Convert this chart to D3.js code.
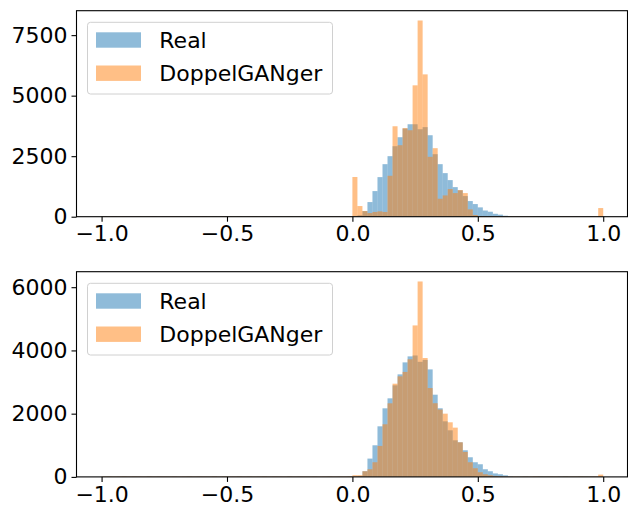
<!DOCTYPE html>
<html>
<head>
<meta charset="utf-8">
<script src="https://cdn.jsdelivr.net/npm/d3@7"></script>
<style>
  html, body { margin: 0; padding: 0; background: #fff; }
  svg { display: block; font-family: "DejaVu Sans", sans-serif; }
</style>
</head>
<body>
<svg id="chart" width="628" height="508"></svg>
<script>
// ---- data: 100 histogram bins of width 0.02 over [-1, 1] ----
const binStart = -1.0;
const binWidth = 0.02;
const seriesNames = ["Real", "DoppelGANger"];
const xTicks = [-1.0, -0.5, 0.0, 0.5, 1.0];
const yTicksTop = [0, 2500, 5000, 7500];
const yTicksBottom = [0, 2000, 4000, 6000];

// top panel
const realTop = [
  12, 10, 14, 9, 11, 13, 10, 12, 9, 11, 14, 10, 12, 11, 9, 13, 10, 12, 11, 10,
  13, 9, 12, 10, 11, 14, 10, 12, 9, 11, 13, 10, 12, 11, 9, 13, 10, 12, 11, 10,
  12, 11, 10, 13, 9, 12, 11, 10, 14, 12,
  30, 60, 230, 604, 1058, 1635, 2170, 2500, 2912, 3283,
  3640, 3819, 3819, 3613, 3700, 3365, 2582, 2170, 1800, 1511,
  1222, 1090, 852, 646, 522, 385, 255, 205, 120, 85,
  40, 10, 8, 6, 8, 7, 14, 16, 15, 14,
  16, 15, 14, 16, 15, 14, 16, 15, 14, 16
];
const doppelTop = [
  16, 14, 18, 15, 17, 14, 16, 18, 15, 16, 17, 14, 16, 15, 18, 16, 14, 17, 15, 16,
  18, 15, 16, 14, 17, 16, 15, 18, 14, 16, 17, 15, 16, 14, 18, 16, 15, 17, 14, 16,
  15, 17, 16, 14, 18, 15, 16, 17, 15, 16,
  1640, 440, 234, 150, 195, 220, 195, 1690, 3736, 2953,
  3660, 3571, 5426, 8104, 5879, 2473, 2830, 742, 879, 1140,
  975, 1100, 975, 302, 70, 27, 15, 12, 10, 9,
  12, 15, 14, 16, 15, 17, 14, 16, 15, 14,
  16, 15, 17, 14, 16, 15, 14, 16, 15, 357
];

// bottom panel
const realBottom = [
  10, 12, 9, 11, 13, 10, 12, 11, 9, 13, 10, 12, 11, 10, 12, 9, 11, 13, 10, 12,
  11, 10, 13, 9, 12, 10, 11, 13, 10, 12, 9, 11, 13, 10, 12, 11, 9, 13, 10, 12,
  11, 10, 12, 9, 11, 13, 10, 12, 11, 14,
  20, 30, 180, 579, 1000, 1600, 2169, 2485, 2896, 3243,
  3622, 3812, 3840, 3640, 3700, 3400, 2600, 2170, 1758, 1474,
  1158, 1095, 842, 621, 463, 400, 242, 179, 110, 84,
  50, 18, 12, 14, 16, 13, 15, 20, 18, 16,
  14, 18, 20, 16, 15, 18, 17, 16, 15, 14
];
const doppelBottom = [
  14, 16, 13, 15, 17, 14, 16, 15, 13, 17, 14, 16, 15, 14, 16, 13, 15, 17, 14, 16,
  15, 14, 17, 13, 16, 14, 15, 17, 14, 16, 13, 15, 17, 14, 16, 15, 13, 17, 14, 16,
  15, 14, 16, 13, 15, 17, 14, 16, 15, 18,
  53, 53, 179, 242, 463, 979, 1664, 2327, 2948, 3180,
  3320, 3720, 4791, 6181, 3760, 2810, 2330, 2130, 2000, 1727,
  1558, 1095, 790, 463, 274, 147, 84, 53, 30, 20,
  14, 12, 15, 13, 16, 14, 18, 16, 15, 17,
  16, 14, 17, 15, 16, 18, 15, 14, 16, 73
];

// ---- drawing ----
const colors = ["#1f77b4", "#ff7f0e"];
const fontSize = 22;
const svg = d3.select("#chart");

const x = d3.scaleLinear().domain([-1.1, 1.1]).range([76.5, 628.3]);

function panel(top, bottom, real, doppel, yTicks) {
  const ymax = 1.05 * d3.max(real.concat(doppel));
  const y = d3.scaleLinear().domain([0, ymax]).range([bottom, top]);
  const g = svg.append("g");

  [real, doppel].forEach((arr, si) => {
    g.append("g").selectAll("rect").data(arr).join("rect")
      .attr("x", (d, i) => x(binStart + i * binWidth))
      .attr("width", (d, i) => x(binStart + (i + 1) * binWidth) - x(binStart + i * binWidth))
      .attr("y", d => y(d))
      .attr("height", d => y(0) - y(d))
      .attr("fill", colors[si])
      .attr("fill-opacity", 0.5);
  });

  // spines
  const right = 627.5;
  g.append("rect")
    .attr("x", x.range()[0]).attr("y", top)
    .attr("width", right - x.range()[0]).attr("height", bottom - top)
    .attr("fill", "none").attr("stroke", "#000").attr("stroke-width", 1.1);

  // x axis
  const xa = d3.axisBottom(x).tickValues(xTicks).tickSize(5).tickPadding(4)
    .tickFormat(d => d3.format(".1f")(d).replace("-", "\u2212"));
  const xg = g.append("g").attr("transform", `translate(0,${bottom})`).call(xa);
  xg.select(".domain").remove();
  xg.selectAll("line").attr("stroke", "#000").attr("stroke-width", 1.1);
  xg.selectAll("text").attr("font-size", fontSize).attr("fill", "#000")
    .attr("font-family", "DejaVu Sans");

  // y axis
  const ya = d3.axisLeft(y).tickValues(yTicks).tickSize(5).tickPadding(4)
    .tickFormat(d3.format("d"));
  const yg = g.append("g").attr("transform", `translate(${x.range()[0]},0)`).call(ya);
  yg.select(".domain").remove();
  yg.selectAll("line").attr("stroke", "#000").attr("stroke-width", 1.1);
  yg.selectAll("text").attr("font-size", fontSize).attr("fill", "#000")
    .attr("font-family", "DejaVu Sans");

  // legend
  const lx = 87.5, ly = top + 11.6;
  const lg = g.append("g");
  lg.append("rect").attr("x", lx).attr("y", ly).attr("width", 245).attr("height", 71.7)
    .attr("rx", 3).attr("fill", "#fff").attr("fill-opacity", 0.8)
    .attr("stroke", "#d0d0d0").attr("stroke-width", 1);
  seriesNames.forEach((name, i) => {
    const cy = ly + 17.7 + i * 33.2;
    lg.append("rect").attr("x", 96).attr("y", cy - 7.7).attr("width", 45).attr("height", 15.4)
      .attr("fill", colors[i]).attr("fill-opacity", 0.5);
    lg.append("text").attr("x", 159.3).attr("y", cy + 7.6)
      .attr("font-size", fontSize).attr("fill", "#000").text(name);
  });
}

panel(10.7, 216.7, realTop, doppelTop, yTicksTop);
panel(271.7, 476.9, realBottom, doppelBottom, yTicksBottom);
</script>
</body>
</html>
